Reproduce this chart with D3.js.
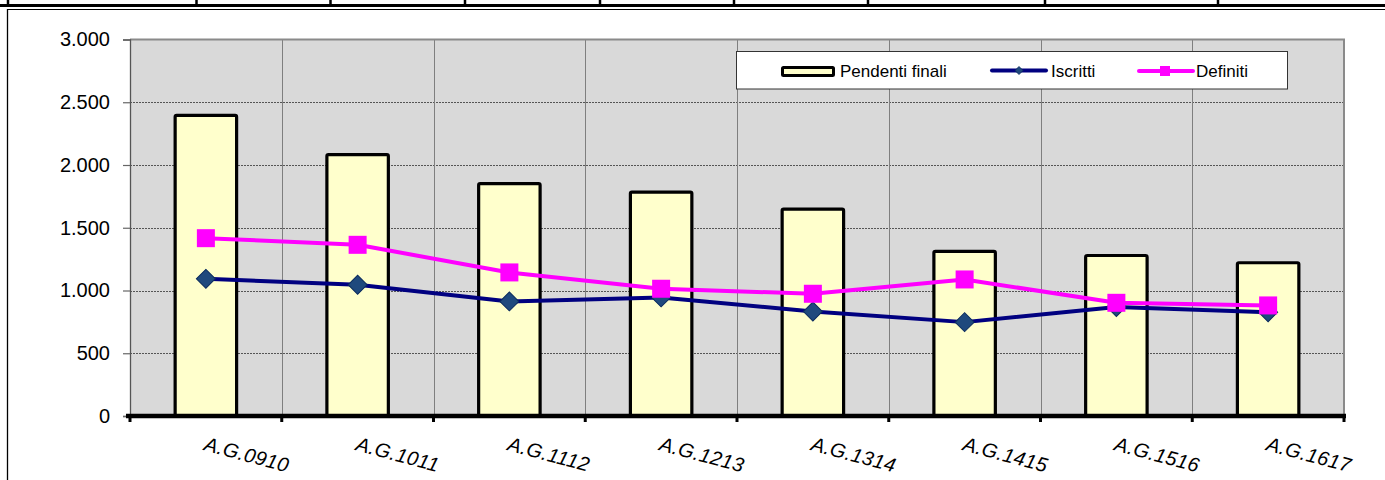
<!DOCTYPE html>
<html>
<head>
<meta charset="utf-8">
<script src="https://cdn.jsdelivr.net/npm/d3@7/dist/d3.min.js"></script>
<style>
  html, body { margin: 0; padding: 0; background: #fff; }
  svg { display: block; font-family: "Liberation Sans", Arial, sans-serif; }
</style>
</head>
<body>
<svg id="chart" width="1385" height="480"></svg>
<script>
// Judicial years and yearly totals
const categories = ["A.G.0910", "A.G.1011", "A.G.1112", "A.G.1213", "A.G.1314", "A.G.1415", "A.G.1516", "A.G.1617"];
const pendentiFinali = [2395, 2082, 1851, 1784, 1648, 1311, 1279, 1221];
const iscritti = [1093, 1046, 913, 945, 833, 748, 868, 827];
const definiti = [1417, 1364, 1144, 1014, 974, 1088, 902, 881];
const yTicks = [0, 500, 1000, 1500, 2000, 2500, 3000];
const legendLabels = ["Pendenti finali", "Iscritti", "Definiti"];

const svg = d3.select("#chart");
const W = 1385;

// Italian number format: 3.000
const it = d3.formatLocale({ decimal: ",", thousands: ".", grouping: [3], currency: ["€", ""] });
const fmt = it.format(",.0f");

const plot = { left: 130, right: 1344, top: 39.5, bottom: 416 };

const x = d3.scaleBand().domain(categories).range([plot.left, plot.right]).padding(0);
const y = d3.scaleLinear().domain([0, 3000]).range([plot.bottom, plot.top]);

// ---- surrounding page frame (table rule above, border to the left) ----
const frame = svg.append("g");
frame.append("line").attr("x1", 0).attr("x2", W).attr("y1", 5.5).attr("y2", 5.5)
  .attr("stroke", "#000").attr("stroke-width", 3);
[8, 196.5, 330.5, 465, 600, 734, 868, 1045, 1218].forEach(cx => {
  frame.append("line").attr("x1", cx).attr("x2", cx).attr("y1", 0).attr("y2", 6)
    .attr("stroke", "#000").attr("stroke-width", 2.5);
});
frame.append("line").attr("x1", 7).attr("x2", W).attr("y1", 9.5).attr("y2", 9.5)
  .attr("stroke", "#000").attr("stroke-width", 1.2);
frame.append("line").attr("x1", 7.5).attr("x2", 7.5).attr("y1", 9).attr("y2", 480)
  .attr("stroke", "#000").attr("stroke-width", 1.3);

// ---- plot area ----
svg.append("rect")
  .attr("x", plot.left).attr("y", plot.top)
  .attr("width", plot.right - plot.left).attr("height", plot.bottom - plot.top)
  .attr("fill", "#D9D9D9");

// horizontal dotted gridlines
svg.append("g").selectAll("line")
  .data(yTicks.filter(v => v > 0 && v < 3000))
  .join("line")
  .attr("x1", plot.left).attr("x2", plot.right)
  .attr("y1", d => Math.round(y(d)) + 0.5).attr("y2", d => Math.round(y(d)) + 0.5)
  .attr("stroke", "#555").attr("stroke-width", 1).attr("stroke-dasharray", "2,1");

// vertical gridlines on category boundaries
const bounds = categories.map(c => x(c)).concat([plot.right]);
svg.append("g").selectAll("line")
  .data(bounds.slice(1, -1))
  .join("line")
  .attr("x1", d => Math.round(d) + 0.5).attr("x2", d => Math.round(d) + 0.5)
  .attr("y1", plot.top).attr("y2", plot.bottom)
  .attr("stroke", "#7f7f7f").attr("stroke-width", 1);

// top & right plot border
svg.append("path")
  .attr("d", `M${plot.left},${plot.top}H${plot.right}V${plot.bottom}`)
  .attr("fill", "none").attr("stroke", "#8a8a8a").attr("stroke-width", 2);

// ---- y axis ----
const yAxis = d3.axisLeft(y).tickValues(yTicks).tickFormat(fmt).tickSize(7).tickPadding(13);
const gy = svg.append("g").attr("transform", `translate(${plot.left},0)`).call(yAxis);
gy.select(".domain").attr("stroke", "#555").attr("stroke-width", 1.3);
gy.selectAll(".tick line").attr("stroke", "#666").attr("stroke-width", 1.2);
gy.selectAll(".tick text")
  .attr("font-size", 20).attr("fill", "#000")
  .attr("font-family", "'Liberation Sans', Arial, sans-serif");

// ---- bars ----
const barW = x.bandwidth() * 0.405;
svg.append("g").selectAll("rect")
  .data(pendentiFinali)
  .join("rect")
  .attr("x", (d, i) => x(categories[i]) + x.bandwidth() / 2 - barW / 2)
  .attr("y", d => y(d))
  .attr("width", barW)
  .attr("height", d => y(0) - y(d))
  .attr("rx", 1.5)
  .attr("fill", "#FFFFCC")
  .attr("stroke", "#000").attr("stroke-width", 3.2);

// ---- x axis (thick baseline with ticks on boundaries) ----
const gx = svg.append("g");
gx.append("line").attr("x1", plot.left - 4).attr("x2", plot.right + 2)
  .attr("y1", plot.bottom).attr("y2", plot.bottom)
  .attr("stroke", "#000").attr("stroke-width", 4.5);
gx.selectAll("line.tk").data(bounds).join("line").attr("class", "tk")
  .attr("x1", d => d).attr("x2", d => d)
  .attr("y1", plot.bottom).attr("y2", plot.bottom + 6)
  .attr("stroke", "#000").attr("stroke-width", 3);
gx.selectAll("text").data(categories).join("text")
  .attr("x", d => x(d) + x.bandwidth() / 2 - 3)
  .attr("y", 450)
  .attr("transform", d => `rotate(15, ${x(d) + x.bandwidth() / 2 - 3}, 450)`)
  .attr("font-size", 20).attr("font-style", "italic")
  .attr("letter-spacing", 0.3)
  .attr("fill", "#000")
  .text(d => d);

// ---- line series ----
const cx = i => x(categories[i]) + x.bandwidth() / 2;
const lineGen = d3.line().x((d, i) => cx(i)).y(d => y(d));

svg.append("path").datum(iscritti)
  .attr("d", lineGen).attr("fill", "none")
  .attr("stroke", "#000080").attr("stroke-width", 4).attr("stroke-linejoin", "round");
svg.append("g").selectAll("path")
  .data(iscritti).join("path")
  .attr("d", d3.symbol(d3.symbolSquare, 180)())
  .attr("transform", (d, i) => `translate(${cx(i)},${y(d)}) rotate(45)`)
  .attr("fill", "#1F497D").attr("stroke", "#0B2B5E").attr("stroke-width", 1);

svg.append("path").datum(definiti)
  .attr("d", lineGen).attr("fill", "none")
  .attr("stroke", "#FF00FF").attr("stroke-width", 4).attr("stroke-linejoin", "round");
svg.append("g").selectAll("rect")
  .data(definiti).join("rect")
  .attr("x", (d, i) => cx(i) - 9).attr("y", d => y(d) - 9)
  .attr("width", 18).attr("height", 18)
  .attr("fill", "#FF00FF");

// ---- legend ----
const lg = svg.append("g");
lg.append("rect").attr("x", 736.5).attr("y", 51.5).attr("width", 551).attr("height", 37.5)
  .attr("fill", "#fff").attr("stroke", "#333").attr("stroke-width", 1);
const ly = 71;
// bar swatch
lg.append("rect").attr("x", 782.5).attr("y", ly - 3.5).attr("width", 51).attr("height", 8)
  .attr("fill", "#FFFFCC").attr("stroke", "#000").attr("stroke-width", 3).attr("rx", 1);
lg.append("text").attr("x", 840).attr("y", ly).attr("dy", "0.36em")
  .attr("font-size", 17).text(legendLabels[0]);
// Iscritti
lg.append("line").attr("x1", 992).attr("x2", 1046).attr("y1", ly - 0.5).attr("y2", ly - 0.5)
  .attr("stroke", "#000080").attr("stroke-width", 4).attr("stroke-linecap", "round");
lg.append("path").attr("d", d3.symbol(d3.symbolSquare, 32)())
  .attr("transform", `translate(1019,${ly - 0.5}) rotate(45)`)
  .attr("fill", "#1F497D").attr("stroke", "#0B2B5E").attr("stroke-width", 0.8);
lg.append("text").attr("x", 1051).attr("y", ly).attr("dy", "0.36em")
  .attr("font-size", 17).text(legendLabels[1]);
// Definiti
lg.append("line").attr("x1", 1139).attr("x2", 1193).attr("y1", ly).attr("y2", ly)
  .attr("stroke", "#FF00FF").attr("stroke-width", 4).attr("stroke-linecap", "round");
lg.append("rect").attr("x", 1160).attr("y", ly - 5).attr("width", 10).attr("height", 10)
  .attr("fill", "#FF00FF");
lg.append("text").attr("x", 1196).attr("y", ly).attr("dy", "0.36em")
  .attr("font-size", 17).text(legendLabels[2]);
</script>
</body>
</html>
